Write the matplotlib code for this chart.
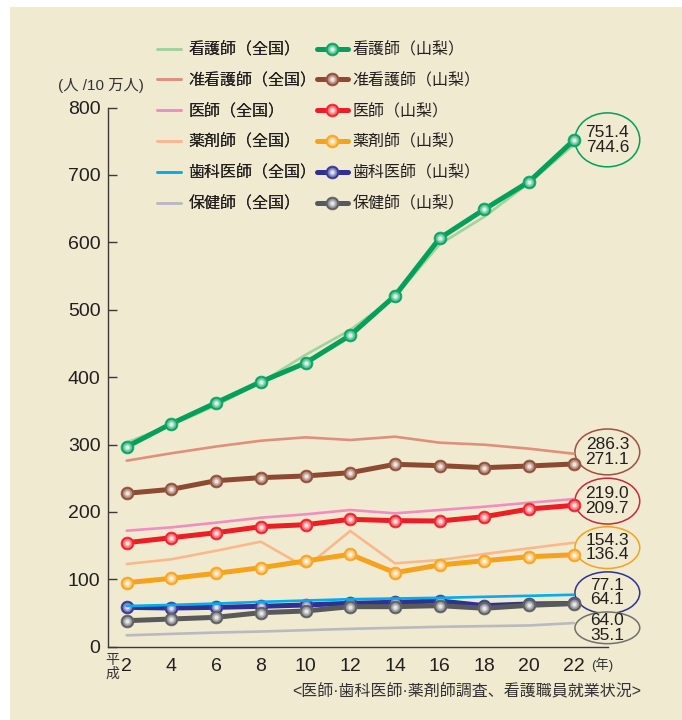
import matplotlib.pyplot as plt
from matplotlib.colors import to_rgb
from matplotlib.patches import Ellipse, Rectangle
from matplotlib.legend_handler import HandlerTuple

plt.rcParams['font.family'] = ['Liberation Sans', 'Noto Sans CJK JP', 'DejaVu Sans']

# 平成 years
years = [2, 4, 6, 8, 10, 12, 14, 16, 18, 20, 22]

# 人口10万人あたりの従事者数
nurse_jp = [303, 329, 358, 392, 433, 470, 519, 597, 638, 688, 744.6]
nurse_yn = [296.6, 331, 362, 393, 421, 462, 520.8, 606, 649, 690, 751.4]
assist_jp = [276, 287, 297, 305.6, 310.6, 306.7, 311.6, 302.7, 299.7, 293.8, 286.3]
assist_yn = [227.6, 233.5, 246.3, 250.8, 253.3, 258.2, 270.6, 268.6, 265.6, 268.1, 271.1]
doctor_jp = [172.1, 177.1, 184, 191.4, 196.4, 202.8, 197.9, 202.8, 207.7, 213.6, 219.0]
doctor_yn = [154.3, 161.7, 169.1, 178, 181, 189, 187, 186.5, 192.9, 204.3, 209.7]
pharm_jp = [122.7, 129.7, 142.4, 155.8, 117.8, 171.7, 123.7, 128.6, 137.5, 146, 154.3]
pharm_yn = [95, 101.4, 108.9, 117.2, 127.2, 137, 109.8, 121.2, 127.6, 133.5, 136.4]
dentist_jp = [60.4, 62, 64, 66.5, 68.5, 70.5, 71.5, 72.5, 74, 75.5, 77.1]
dentist_yn = [58.4, 57.4, 58.4, 59.9, 61.9, 64.4, 65.9, 67.8, 60.9, 63.4, 64.1]
phn_jp = [16.9, 19, 21, 22.5, 24.5, 26.5, 28, 29.5, 30.5, 31.5, 35.1]
phn_yn = [38.6, 41.1, 43.6, 50.5, 53, 59.4, 59.4, 60.9, 57, 61.4, 64.0]

jobs = ['看護師', '准看護師', '医師', '薬剤師', '歯科医師', '保健師']
national = [nurse_jp, assist_jp, doctor_jp, pharm_jp, dentist_jp, phn_jp]
yamanashi = [nurse_yn, assist_yn, doctor_yn, pharm_yn, dentist_yn, phn_yn]
light_colors = ['#9fd49b', '#e0907a', '#f28dbf', '#f9b98a', '#00aeef', '#b9b9c2']
dark_colors = ['#00a05a', '#8c4a32', '#ee1c25', '#f7a21b', '#2e3192', '#58595b']
ring_colors = ['#00a05a', '#a0503c', '#c8283a', '#f7a21b', '#2e3192', '#707070']
# 楕円の中心高さと高さ(データ単位)
ring_y = [752, 289, 216, 147, 80, 28]
ring_h = [80, 68, 68, 62, 62, 47]

BG = '#f0ead0'


def mix(c, w):
    r, g, b = to_rgb(c)
    return (r + (1 - r) * w, g + (1 - g) * w, b + (1 - b) * w)


fig = plt.figure(figsize=(6.82, 7.2), dpi=100, facecolor='white')
fig.patches.append(Rectangle((10 / 682, 0), 1, 1 - 7 / 720, transform=fig.transFigure,
                             facecolor=BG, edgecolor='none', zorder=-10))
ax = fig.add_axes([108 / 682, 1 - 646.7 / 720, 500 / 682, (646.7 - 107.5) / 720])
ax.set_facecolor('none')

jp_handles, yn_handles = [], []
z_yn = [6, 6, 6, 6, 3, 7]
z_jp = [5, 2, 2, 2, 4, 2]
for i, job in enumerate(jobs):
    l, = ax.plot(years, national[i], color=light_colors[i], lw=1.9, zorder=z_jp[i],
                 solid_capstyle='round')
    jp_handles.append(l)
    base, = ax.plot(years, yamanashi[i], color=dark_colors[i], lw=3.6, marker='o',
                    ms=9.2, mec=mix(dark_colors[i], 0.1), mew=0.6, zorder=z_yn[i],
                    solid_capstyle='round')
    # 球っぽく見せるハイライト
    layers = [base]
    for w, s in [(0.35, 7.0), (0.6, 4.8), (0.85, 2.8)]:
        h, = ax.plot(years, yamanashi[i], ls='none', marker='o', ms=s, mec='none',
                     mfc=mix(dark_colors[i], w), zorder=z_yn[i] + 0.1)
        layers.append(h)
    yn_handles.append(tuple(layers))

    ax.add_patch(Ellipse((23.5, ring_y[i]), 2.9, ring_h[i], facecolor=BG,
                         edgecolor=ring_colors[i], lw=1.1, clip_on=False, zorder=1))
    hi, lo = max(national[i][-1], yamanashi[i][-1]), min(national[i][-1], yamanashi[i][-1])
    ax.text(23.5, ring_y[i], f'{hi:.1f}\n{lo:.1f}', ha='center', va='center',
            fontsize=12.5, linespacing=0.95, color='#231f20', zorder=8)

ax.set_xlim(1.163, 23.53)
ax.set_ylim(0, 800)
ax.set_xticks(years)
ax.set_xticklabels([str(y) for y in years])
ax.set_yticks(range(0, 801, 100))
for s in ['top', 'right']:
    ax.spines[s].set_visible(False)
for s in ['left', 'bottom']:
    ax.spines[s].set_color('#3a3a3a')
    ax.spines[s].set_linewidth(1.0)
ax.tick_params(axis='y', direction='in', length=6.5, width=1.0, color='#3a3a3a',
               labelsize=14, pad=5.5, labelcolor='#231f20')
ax.tick_params(axis='x', length=0, labelsize=14, pad=8, labelcolor='#231f20')

ax.text(-0.014, 1.0417, '(人 /10 万人)', transform=ax.transAxes, ha='center',
        va='center', fontsize=11, color='#333333')
ax.text(0.008, -0.012, '平\n成', transform=ax.transAxes, ha='center', va='top',
        fontsize=10, linespacing=0.95, color='#333333')
ax.text(0.966, -0.034, '(年)', transform=ax.transAxes, ha='left', va='center',
        fontsize=9.5, color='#333333')
fig.text(641 / 682, 1 - 691.5 / 720, '<医師·歯科医師·薬剤師調査、看護職員就業状況>',
         ha='right', va='center', fontsize=11.5, color='#333333')

leg_font = {'family': ['Noto Sans CJK JP'], 'size': 11.5}
leg1 = fig.legend(jp_handles, [f'{j}（全国）' for j in jobs], loc='upper left',
                  bbox_to_anchor=(146 / 682, 1 - 30 / 720), frameon=False,
                  handlelength=1.5, handletextpad=0.45, labelspacing=0.87,
                  prop=leg_font, labelcolor='#231f20', borderpad=0.2)
leg2 = fig.legend(yn_handles, [f'{j}（山梨）' for j in jobs], loc='upper left',
                  bbox_to_anchor=(306 / 682, 1 - 30 / 720), frameon=False,
                  handlelength=1.9, handletextpad=0.3, labelspacing=0.87,
                  prop=leg_font, labelcolor='#231f20', borderpad=0.2,
                  handler_map={tuple: HandlerTuple(ndivide=1)})
fig.add_artist(leg1)

fig.savefig('out.png', dpi=100, facecolor=fig.get_facecolor())
